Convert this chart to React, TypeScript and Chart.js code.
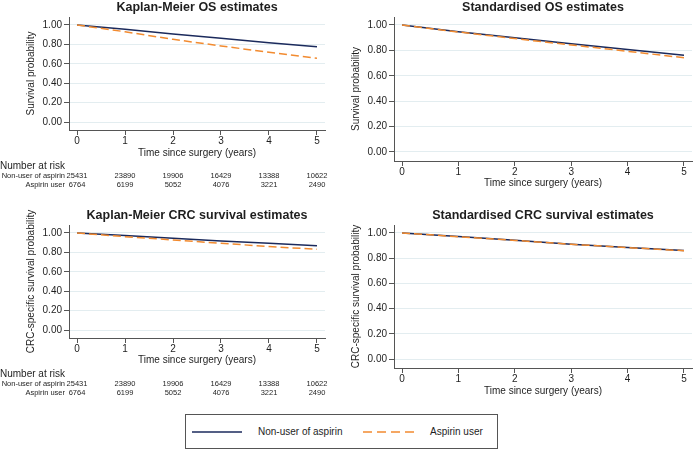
import React, { useEffect, useRef } from "react";
import { Chart, registerables } from "chart.js";

Chart.register(...registerables);

// ---------- data ----------
const years = [0, 1, 2, 3, 4, 5];
const yTicks = [0, 0.2, 0.4, 0.6, 0.8, 1.0];
const seriesLabels = ["Non-user of aspirin", "Aspirin user"];

const kmOsNonUser = [1.0, 0.955, 0.907, 0.863, 0.818, 0.776];
const kmOsAspirin = [1.0, 0.93, 0.852, 0.784, 0.718, 0.656];

const stdOsNonUser = [1.0, 0.947, 0.9, 0.853, 0.808, 0.762];
const stdOsAspirin = [1.0, 0.945, 0.893, 0.843, 0.793, 0.742];

const kmCrcNonUser = [1.0, 0.973, 0.945, 0.918, 0.894, 0.869];
const kmCrcAspirin = [1.0, 0.962, 0.928, 0.894, 0.86, 0.832];

const stdCrcNonUser = [1.0, 0.971, 0.942, 0.911, 0.885, 0.861];
const stdCrcAspirin = [1.0, 0.97, 0.941, 0.91, 0.884, 0.859];

const atRiskNonUser = [25431, 23890, 19906, 16429, 13388, 10622];
const atRiskAspirin = [6764, 6199, 5052, 4076, 3221, 2490];

// ---------- styles ----------
const NAVY = "#1b2a5c";
const ORANGE = "#f28b30";
const TEXT = "#1e1e1e";
const AXIS = "#555555";
const GRID = "#e3edf0";
const FONT = "'Liberation Sans', Arial, Helvetica, sans-serif";

type Spec = {
  title: string;
  yTitle: string;
  nonUser: number[];
  aspirin: number[];
  left: number;
  top: number;
  width: number;
  height: number;
  padTop: number;
  padRight: number;
  padBottom: number;
  yWidth: number;
  xHeight: number;
  yTitleX: number;
  yMin: number;
  yMax: number;
  xMin: number;
  xMax: number;
  risk: boolean;
};

const panels: Spec[] = [
  {
    title: "Kaplan-Meier OS estimates",
    yTitle: "Survival probability",
    nonUser: kmOsNonUser,
    aspirin: kmOsAspirin,
    left: 0, top: 0, width: 346, height: 200,
    padTop: 17, padRight: 21, padBottom: 41,
    yWidth: 69, xHeight: 29, yTitleX: 31,
    yMin: -0.082, yMax: 1.082, xMin: -0.167, xMax: 5.167,
    risk: true,
  },
  {
    title: "Standardised OS estimates",
    yTitle: "Survival probability",
    nonUser: stdOsNonUser,
    aspirin: stdOsAspirin,
    left: 346, top: 0, width: 347, height: 200,
    padTop: 17, padRight: 1, padBottom: 11,
    yWidth: 48, xHeight: 28, yTitleX: 10,
    yMin: -0.071, yMax: 1.063, xMin: -0.142, xMax: 5.142,
    risk: false,
  },
  {
    title: "Kaplan-Meier CRC survival estimates",
    yTitle: "CRC-specific survival probability",
    nonUser: kmCrcNonUser,
    aspirin: kmCrcAspirin,
    left: 0, top: 200, width: 346, height: 208,
    padTop: 25, padRight: 21, padBottom: 42,
    yWidth: 69, xHeight: 28, yTitleX: 31,
    yMin: -0.082, yMax: 1.082, xMin: -0.167, xMax: 5.167,
    risk: true,
  },
  {
    title: "Standardised CRC survival estimates",
    yTitle: "CRC-specific survival probability",
    nonUser: stdCrcNonUser,
    aspirin: stdCrcAspirin,
    left: 346, top: 200, width: 347, height: 208,
    padTop: 25, padRight: 1, padBottom: 11,
    yWidth: 48, xHeight: 29, yTitleX: 10,
    yMin: -0.071, yMax: 1.063, xMin: -0.142, xMax: 5.142,
    risk: false,
  },
];

const panelDecor = {
  id: "panelDecor",
  afterDraw(chart: any, _args: any, opts: any) {
    const { ctx, chartArea } = chart;
    ctx.save();
    ctx.fillStyle = TEXT;
    ctx.textBaseline = "middle";
    // main title centred on plot region
    ctx.font = `bold 12.5px ${FONT}`;
    ctx.textAlign = "center";
    ctx.fillText(opts.title, (chartArea.left + chartArea.right) / 2, chartArea.top - 9.5);
    // y-axis title
    ctx.save();
    ctx.translate(opts.yTitleX, (chartArea.top + chartArea.bottom) / 2);
    ctx.rotate(-Math.PI / 2);
    ctx.font = `10px ${FONT}`;
    ctx.textAlign = "center";
    ctx.fillText(opts.yTitle, 0, 0);
    ctx.restore();
    // number at risk table
    if (opts.risk) {
      const xs = chart.scales.x;
      const b = chartArea.bottom;
      ctx.font = `10px ${FONT}`;
      ctx.textAlign = "left";
      ctx.fillText("Number at risk", 0, b + 36);
      ctx.font = `7.5px ${FONT}`;
      const rows = [
        { label: seriesLabels[0], values: atRiskNonUser },
        { label: seriesLabels[1], values: atRiskAspirin },
      ];
      rows.forEach((row, i) => {
        const y = b + 46 + i * 8.5;
        ctx.textAlign = "right";
        ctx.fillText(row.label, chartArea.left - 4, y);
        ctx.textAlign = "center";
        row.values.forEach((v, j) => {
          ctx.fillText(String(v), xs.getPixelForValue(years[j]), y);
        });
      });
    }
    ctx.restore();
  },
};

function Panel({ spec }: { spec: Spec }) {
  const ref = useRef<HTMLCanvasElement | null>(null);
  useEffect(() => {
    if (!ref.current) return;
    const chart = new Chart(ref.current, {
      type: "line",
      data: {
        datasets: [
          {
            label: seriesLabels[0],
            data: years.map((x, i) => ({ x, y: spec.nonUser[i] })),
            borderColor: NAVY,
            backgroundColor: NAVY,
            borderWidth: 1.5,
            pointRadius: 0,
            tension: 0,
            order: 1,
          },
          {
            label: seriesLabels[1],
            data: years.map((x, i) => ({ x, y: spec.aspirin[i] })),
            borderColor: ORANGE,
            backgroundColor: ORANGE,
            borderWidth: 1.5,
            borderDash: [8, 4],
            pointRadius: 0,
            tension: 0,
            order: 0,
          },
        ],
      },
      options: {
        animation: false,
        responsive: false,
        devicePixelRatio: 1,
        layout: {
          padding: { left: 0, top: spec.padTop, right: spec.padRight, bottom: spec.padBottom },
        },
        plugins: {
          legend: { display: false },
          tooltip: { enabled: false },
          title: { display: false },
          panelDecor: {
            title: spec.title,
            yTitle: spec.yTitle,
            yTitleX: spec.yTitleX,
            risk: spec.risk,
          },
        } as any,
        scales: {
          x: {
            type: "linear",
            min: spec.xMin,
            max: spec.xMax,
            afterBuildTicks: (s: any) => {
              s.ticks = years.map((v) => ({ value: v }));
            },
            afterFit: (s: any) => {
              s.height = spec.xHeight;
            },
            grid: {
              drawOnChartArea: false,
              drawTicks: true,
              tickLength: 5,
              tickColor: AXIS,
            },
            border: { display: true, color: AXIS, width: 1 },
            ticks: {
              font: { size: 10, family: FONT },
              color: TEXT,
              padding: 0,
              maxRotation: 0,
              autoSkip: false,
              callback: (v: any) => String(v),
            },
            title: {
              display: true,
              text: "Time since surgery (years)",
              font: { size: 10, family: FONT },
              color: TEXT,
              padding: { top: 0, bottom: 0 },
            },
          },
          y: {
            type: "linear",
            min: spec.yMin,
            max: spec.yMax,
            afterBuildTicks: (s: any) => {
              s.ticks = yTicks.map((v) => ({ value: v }));
            },
            afterFit: (s: any) => {
              s.width = spec.yWidth;
            },
            grid: {
              color: GRID,
              lineWidth: 1,
              drawTicks: true,
              tickLength: 5,
              tickColor: AXIS,
            },
            border: { display: true, color: AXIS, width: 1 },
            ticks: {
              font: { size: 10, family: FONT },
              color: TEXT,
              padding: 2,
              autoSkip: false,
              callback: (v: any) => Number(v).toFixed(2),
            },
          },
        },
      },
      plugins: [panelDecor as any],
    } as any);
    return () => chart.destroy();
  }, [spec]);
  return (
    <canvas
      ref={ref}
      width={spec.width}
      height={spec.height}
      style={{
        position: "absolute",
        left: spec.left,
        top: spec.top,
        width: spec.width,
        height: spec.height,
        display: "block",
      }}
    />
  );
}

export default function App() {
  return (
    <div
      style={{
        position: "absolute",
        left: 0,
        top: 0,
        width: 693,
        height: 450,
        background: "#ffffff",
        overflow: "hidden",
        fontFamily: FONT,
      }}
    >
      {panels.map((p, i) => (
        <Panel key={i} spec={p} />
      ))}
      <div
        style={{
          position: "absolute",
          left: 185,
          top: 414,
          width: 313,
          height: 35,
          boxSizing: "border-box",
          border: `1px solid ${AXIS}`,
          background: "#ffffff",
        }}
      >
        <svg width={311} height={33} style={{ position: "absolute", left: 0, top: 0 }}>
          <line x1={6} y1={17} x2={56} y2={17} stroke={NAVY} strokeWidth={1.5} />
          <text x={72} y={17} fontSize={10} fontFamily={FONT} fill={TEXT} dominantBaseline="middle">
            {seriesLabels[0]}
          </text>
          <line x1={177} y1={17} x2={229} y2={17} stroke={ORANGE} strokeWidth={1.5} strokeDasharray="9 5" />
          <text x={244} y={17} fontSize={10} fontFamily={FONT} fill={TEXT} dominantBaseline="middle">
            {seriesLabels[1]}
          </text>
        </svg>
      </div>
    </div>
  );
}
